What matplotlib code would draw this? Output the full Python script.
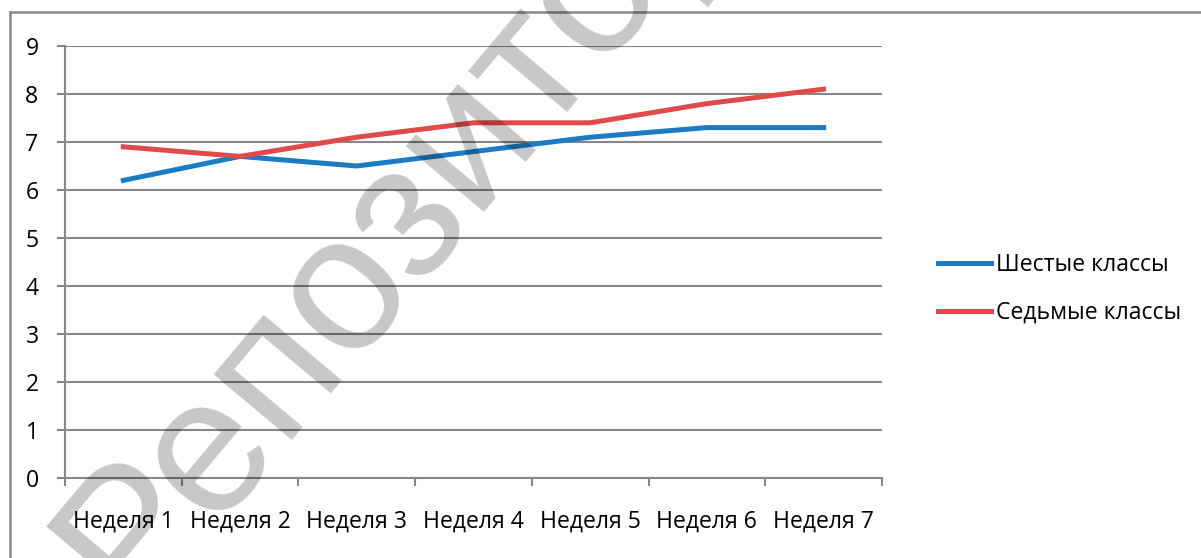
import matplotlib
matplotlib.use('Agg')
import matplotlib.pyplot as plt
from matplotlib.lines import Line2D

weeks = ['Неделя 1', 'Неделя 2', 'Неделя 3', 'Неделя 4', 'Неделя 5', 'Неделя 6', 'Неделя 7']
sixth = [6.2, 6.7, 6.5, 6.8, 7.1, 7.3, 7.3]
seventh = [6.9, 6.7, 7.1, 7.4, 7.4, 7.8, 8.1]
series_names = ['Шестые классы', 'Седьмые классы']
y_ticks = list(range(0, 10))

BLUE = '#1b7bc3'
RED = '#e04a4a'
GRID = '#878787'
FS = 16.6

plt.rcParams['font.family'] = ['Open Sans', 'DejaVu Sans']

W, H = 1201, 558
fig = plt.figure(figsize=(W / 100, H / 100), dpi=100)
ax = fig.add_axes([65 / W, 1 - 478 / H, (882 - 65) / W, (478 - 46) / H])

x = list(range(len(weeks)))
ax.plot(x, sixth, color=BLUE, lw=3.6, label=series_names[0], zorder=3)
ax.plot(x, seventh, color=RED, lw=3.6, label=series_names[1], zorder=3)

ax.set_xlim(-0.5, len(weeks) - 0.5)
ax.set_ylim(0, 9)
ax.set_yticks(y_ticks)
ax.set_xticks(x, weeks)
ax.set_xticks([i - 0.5 for i in range(len(weeks) + 1)], minor=True)
ax.grid(axis='y', color=GRID, lw=1.5)
ax.set_axisbelow(True)

for s in ('top', 'right'):
    ax.spines[s].set_visible(False)
for s in ('left', 'bottom'):
    ax.spines[s].set_color(GRID)
    ax.spines[s].set_linewidth(1.5)

ax.tick_params(axis='x', which='major', length=0, pad=23, labelsize=FS)
ax.tick_params(axis='x', which='minor', length=6, width=1.5, color=GRID)
ax.tick_params(axis='y', length=6, width=1.5, color=GRID, pad=13, labelsize=FS)

ax.legend(loc='center left', bbox_to_anchor=(938 / W, 1 - 289 / H),
          bbox_transform=fig.transFigure, frameon=False, borderpad=0,
          borderaxespad=0, handlelength=2.3, handletextpad=0.2,
          labelspacing=1.05, fontsize=FS)

# frame of the chart area
fig.add_artist(Line2D([10 / W, 1], [1 - 12 / H, 1 - 12 / H], color=GRID, lw=1.8))
fig.add_artist(Line2D([10 / W, 10 / W], [0, 1 - 12 / H], color=GRID, lw=1.8))

# watermark
fig.text(132 / W, 1 - 612 / H, 'Репозиторий', rotation=50, rotation_mode='anchor',
         ha='left', va='baseline', fontsize=139, color='black', alpha=0.22,
         family=['Liberation Sans', 'DejaVu Sans'], zorder=10)

fig.savefig('out.png', dpi=100)
